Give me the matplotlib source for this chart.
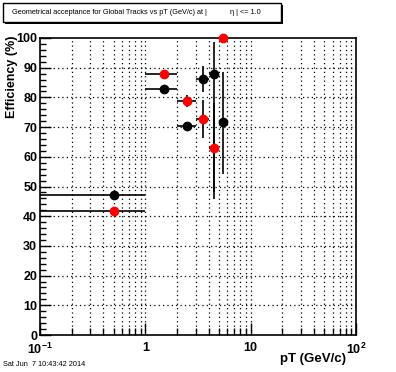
import matplotlib
matplotlib.use("Agg")
import matplotlib.pyplot as plt
import matplotlib.patches as patches
from matplotlib.ticker import LogLocator, MultipleLocator, FixedLocator, NullFormatter
import numpy as np

plt.rcParams['font.family'] = ['Liberation Sans', 'DejaVu Sans']
plt.rcParams['mathtext.fontset'] = 'custom'
plt.rcParams['mathtext.bf'] = 'Liberation Sans:bold'
plt.rcParams['mathtext.rm'] = 'Liberation Sans:bold'
plt.rcParams['mathtext.default'] = 'bf'

# Data
pt = [0.5, 1.5, 2.5, 3.5, 4.5, 5.5]
pt_err = [0.5, 0.5, 0.5, 0.5, 0.5, 0.5]
eff_black = [47.1, 82.8, 70.4, 86.2, 87.8, 71.6]
black_lo = [0.0, 0.0, 1.0, 4.3, 42.0, 17.3]
black_hi = [0.0, 0.0, 1.0, 4.3, 11.0, 17.1]
eff_red = [41.6, 87.8, 78.8, 72.6, 63.1, 100.0]
red_lo = [0.0, 0.0, 1.9, 6.4, 15.0, 0.0]
red_hi = [0.0, 0.0, 1.9, 6.5, 15.0, 0.0]

x_ticks = [0.1, 1, 10, 100]
x_ticklabels = ['10$^{-1}$', '1', '10', '10$^{2}$']

title_left = "Geometrical acceptance for Global Tracks vs pT (GeV/c) at |"
title_right = "η | <= 1.0"
date_text = "Sat Jun  7 10:43:42 2014"

W, H = 396, 372
fig = plt.figure(figsize=(W/100, H/100), dpi=100)
ax = fig.add_axes([40/W, 1-335/H, 316/W, 297/H])

ax.set_xscale('log')
ax.set_xlim(0.1, 100)
ax.set_ylim(0, 100)

# error bars (clipped to frame)
ax.errorbar(pt, eff_black, xerr=pt_err, yerr=[black_lo, black_hi], fmt='none',
            ecolor='black', elinewidth=1.2, capsize=0, zorder=3)
ax.errorbar(pt, eff_red, xerr=pt_err, yerr=[red_lo, red_hi], fmt='none',
            ecolor='black', elinewidth=1.2, capsize=0, zorder=3)
# markers (not clipped, so the 100% point shows fully)
ax.plot(pt, eff_black, 'o', color='black', markersize=6, zorder=4, clip_on=False)
ax.plot(pt, eff_red, 'o', color='red', markersize=6, zorder=5, clip_on=False)

# ticks
ax.yaxis.set_major_locator(MultipleLocator(10))
ax.yaxis.set_minor_locator(MultipleLocator(2))
ax.xaxis.set_major_locator(FixedLocator(x_ticks))
ax.xaxis.set_minor_locator(LogLocator(base=10, subs=np.arange(2, 10), numticks=20))
ax.xaxis.set_minor_formatter(NullFormatter())
ax.set_xticklabels(x_ticklabels)
ax.tick_params(axis='both', which='both', direction='in', top=False, right=False)
ax.tick_params(axis='y', which='major', length=8, width=1, labelsize=9, pad=2)
ax.tick_params(axis='y', which='minor', length=4, width=1)
ax.tick_params(axis='x', which='major', length=9, width=1, labelsize=9, pad=5)
ax.tick_params(axis='x', which='minor', length=5, width=1)
for lab in ax.get_xticklabels() + ax.get_yticklabels():
    lab.set_fontweight('bold')

# grid
for yv in range(10, 100, 10):
    ax.axhline(yv, color='black', linestyle=(0, (1, 2.5)), linewidth=0.9, zorder=1)
xs = []
for dec in [0.1, 1, 10]:
    for m in range(2, 10):
        xs.append(dec*m)
xs += [1, 10]
for xv in xs:
    ax.axvline(xv, color='black', linestyle=(0, (1, 2.5)), linewidth=0.9, zorder=1)

for s in ax.spines.values():
    s.set_linewidth(1.2)

# axis titles
fig.text(12/W, 1-36/H, 'Efficiency (%)', fontsize=9, fontweight='bold',
         rotation=90, ha='center', va='top')
fig.text(346/W, 1-359/H, 'pT (GeV/c)', fontsize=9.5, fontweight='bold',
         ha='right', va='center')

# title box with shadow
box_x0, box_y0, box_x1, box_y1 = 3, 3, 281, 22
shadow = patches.Rectangle(((box_x0+2)/W, 1-(box_y1+2)/H), (box_x1-box_x0)/W, (box_y1-box_y0)/H,
                           transform=fig.transFigure, facecolor='black', edgecolor='none')
fig.patches.append(shadow)
box = patches.Rectangle((box_x0/W, 1-box_y1/H), (box_x1-box_x0)/W, (box_y1-box_y0)/H,
                        transform=fig.transFigure, facecolor='white', edgecolor='black', linewidth=1)
fig.patches.append(box)
fig.text(12/W, 1-13/H, title_left, fontsize=5.3, va='center', ha='left')
fig.text(230/W, 1-13/H, title_right, fontsize=5.3, va='center', ha='left')

fig.text(3/W, 1-365/H, date_text, fontsize=5.3, va='center', ha='left')

fig.savefig('out.png', dpi=100)
